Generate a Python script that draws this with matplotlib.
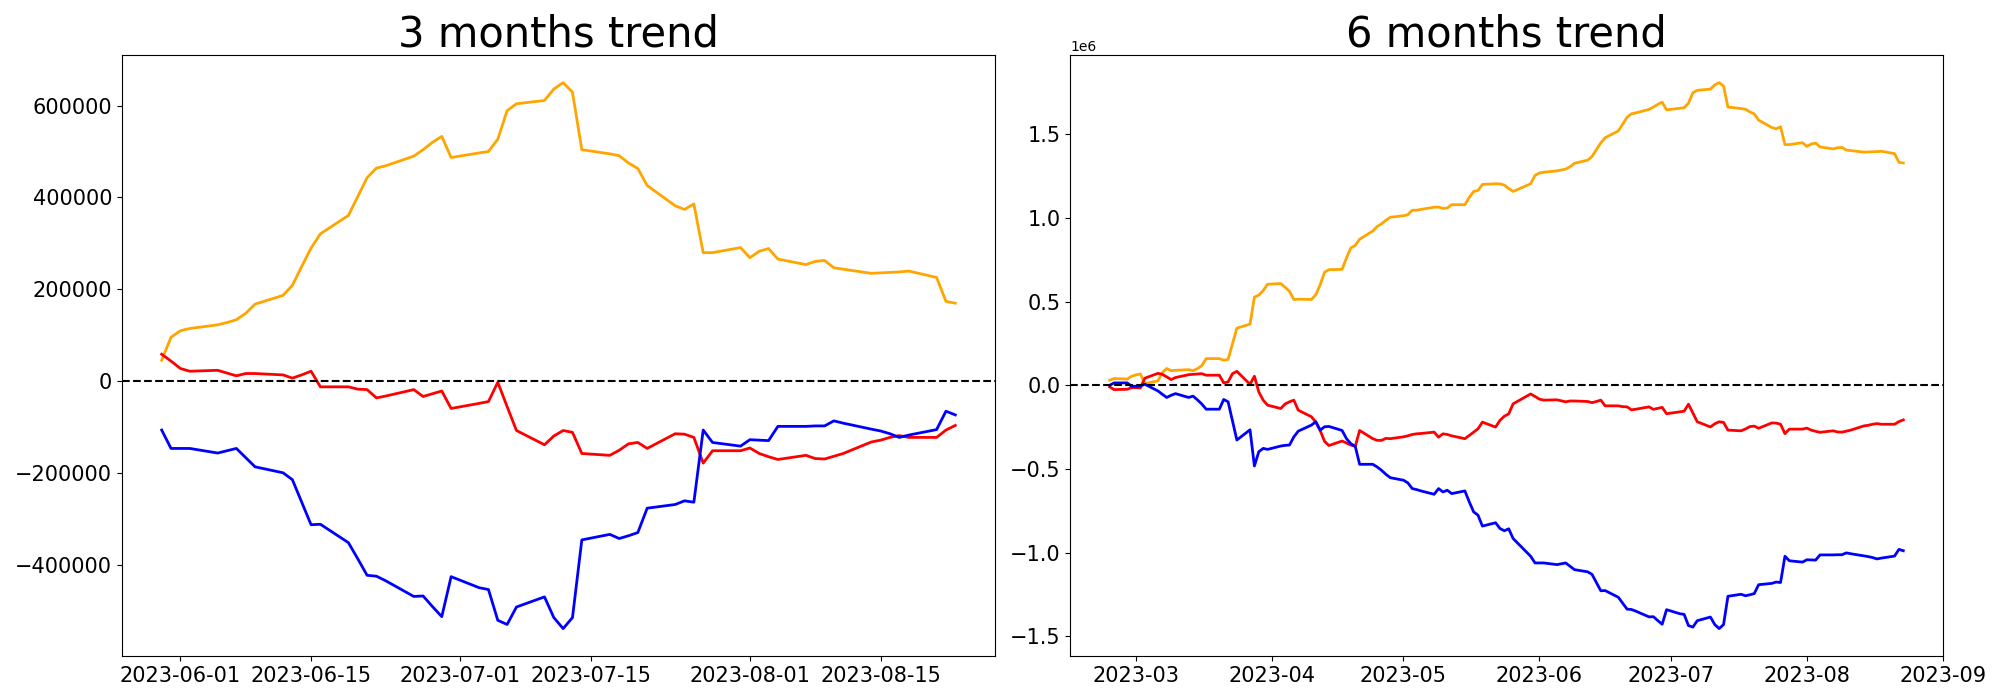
import numpy as np
import pandas as pd
import matplotlib
matplotlib.use("Agg")
import matplotlib.pyplot as plt

titles = ["3 months trend", "6 months trend"]
line_colors = ["orange", "red", "blue"]

# ---- x axis: business days (May 29 missing in the source data) ----
dates_3m = pd.bdate_range("2023-05-30", "2023-08-23")
dates_6m = pd.bdate_range("2023-02-23", "2023-08-23").drop(pd.Timestamp("2023-05-29"))

# ---- 3 months trend (values in thousands) ----
orange_3m_k = [46, 96, 110, 115, 123, 128, 134, 148, 168, 187, 209, 250, 290, 321,
               361, 402, 443, 464, 469, 490, 504, 520, 533, 487, 497, 500, 527, 589,
               604, 611, 636, 650, 629, 504, 495, 491, 475, 463, 426, 382, 374, 386,
               280, 280, 291, 269, 283, 289, 266, 254, 261, 263, 247, 244, 235, 236,
               237, 238, 240, 226, 174, 170]
red_3m_k = [59, 44, 28, 22, 24, 18, 12, 17, 17, 14, 7, 14, 22, -12, -12, -17, -18,
            -36, -32, -18, -33, -27, -21, -59, -48, -44, -2, -55, -107, -138, -119,
            -107, -111, -157, -161, -150, -136, -133, -146, -114, -115, -122, -178,
            -151, -151, -145, -157, -164, -170, -161, -168, -169, -163, -157, -132,
            -128, -122, -118, -122, -122, -106, -96]
blue_3m_k = [-106, -146, -146, -146, -156, -151, -146, -166, -186, -199, -214, -263,
             -312, -311, -351, -386, -422, -424, -434, -468, -467, -490, -512, -425,
             -449, -453, -520, -529, -491, -469, -514, -538, -514, -345, -333, -342,
             -336, -329, -276, -268, -260, -263, -106, -133, -141, -127, -128, -129,
             -98, -98, -97, -97, -86, -91, -104, -108, -114, -122, -117, -105, -65, -73]

# ---- 6 months trend (values in millions) ----
orange_6m_m = [0.030, 0.040, 0.037, 0.054,
               0.062, 0.067, 0.010, 0.026, 0.075, 0.100, 0.087, 0.089, 0.093, 0.087,
               0.099, 0.117, 0.159, 0.159, 0.149, 0.155, 0.248, 0.341, 0.365, 0.526,
               0.538, 0.565, 0.603,
               0.607, 0.585, 0.561, 0.512, 0.514, 0.512, 0.540, 0.600, 0.675, 0.690,
               0.692, 0.760, 0.820, 0.835, 0.872, 0.921, 0.948, 0.964, 0.985, 1.003,
               1.012, 1.018, 1.045, 1.045, 1.050, 1.063, 1.064, 1.056, 1.058, 1.078,
               1.078, 1.121, 1.157, 1.163, 1.199, 1.203, 1.202, 1.195, 1.175, 1.157,
               1.203, 1.253, 1.267, 1.272, 1.280, 1.285, 1.291, 1.305, 1.325, 1.344,
               1.366, 1.407, 1.447, 1.478, 1.518, 1.559, 1.600, 1.621, 1.626, 1.647,
               1.661, 1.677, 1.690, 1.644, 1.654, 1.657, 1.684, 1.746, 1.761, 1.768,
               1.793, 1.807, 1.786, 1.661, 1.652, 1.648, 1.632, 1.620, 1.583, 1.539,
               1.531, 1.543, 1.437, 1.437, 1.448, 1.426, 1.440, 1.446, 1.423, 1.411,
               1.418, 1.420, 1.404, 1.401, 1.392, 1.393, 1.394, 1.395, 1.397, 1.383,
               1.331, 1.327]
red_6m_m = [-0.010, -0.026, -0.024, -0.014,
            -0.014, -0.016, 0.042, 0.071, 0.065, 0.050, 0.034, 0.046, 0.063, 0.065,
            0.067, 0.069, 0.060, 0.060, 0.014, 0.020, 0.069, 0.083, 0.006, 0.054,
            -0.040, -0.089, -0.119,
            -0.139, -0.112, -0.099, -0.089, -0.149, -0.188, -0.220, -0.270, -0.335,
            -0.360, -0.333, -0.345, -0.357, -0.365, -0.270, -0.319, -0.329, -0.329,
            -0.317, -0.319,
            -0.308, -0.302, -0.294, -0.290, -0.288, -0.280, -0.310, -0.290, -0.294,
            -0.302, -0.319, -0.300, -0.280, -0.260, -0.220, -0.250, -0.210, -0.185,
            -0.171, -0.111,
            -0.052, -0.067, -0.083, -0.089, -0.087, -0.093, -0.099, -0.094, -0.094,
            -0.097, -0.104, -0.097, -0.089, -0.123, -0.123, -0.128, -0.129, -0.147,
            -0.143, -0.129, -0.144, -0.138, -0.132, -0.170, -0.159, -0.155, -0.113,
            -0.166, -0.218, -0.249, -0.230, -0.218, -0.222, -0.268, -0.272, -0.261,
            -0.247, -0.244, -0.257, -0.225, -0.226, -0.233, -0.289, -0.262, -0.262,
            -0.256, -0.268, -0.275, -0.281, -0.272, -0.279, -0.280, -0.274, -0.268,
            -0.243, -0.239, -0.233, -0.229, -0.233, -0.233, -0.217, -0.207]
blue_6m_m = [0.000, 0.014, 0.014, -0.006,
             -0.006, -0.004, 0.006, -0.034, -0.054, -0.073, -0.060, -0.050, -0.073,
             -0.065, -0.087, -0.112, -0.143, -0.143, -0.085, -0.099, -0.214, -0.327,
             -0.266, -0.482, -0.397, -0.377, -0.383,
             -0.363, -0.359, -0.357, -0.308, -0.274, -0.238, -0.218, -0.268, -0.248,
             -0.246, -0.270, -0.319, -0.349, -0.365, -0.472, -0.472, -0.488, -0.508,
             -0.532, -0.552,
             -0.567, -0.583, -0.617, -0.623, -0.631, -0.651, -0.617, -0.637, -0.627,
             -0.647, -0.631, -0.696, -0.756, -0.776, -0.841, -0.821, -0.855, -0.869,
             -0.857, -0.915,
             -1.021, -1.061, -1.061, -1.061, -1.071, -1.066, -1.061, -1.081, -1.101,
             -1.114, -1.129, -1.178, -1.227, -1.226, -1.266, -1.301, -1.337, -1.339,
             -1.349, -1.383, -1.382, -1.405, -1.427, -1.340, -1.364, -1.368, -1.435,
             -1.444, -1.406, -1.384, -1.429, -1.453, -1.429, -1.260, -1.248, -1.257,
             -1.251, -1.244, -1.191, -1.183, -1.175, -1.178, -1.021, -1.048, -1.056,
             -1.042, -1.043, -1.044, -1.013, -1.013, -1.012, -1.012, -1.001, -1.006,
             -1.019, -1.023, -1.029, -1.037, -1.032, -1.020, -0.980, -0.988]

panels = [
    (dates_3m, [np.array(orange_3m_k) * 1e3, np.array(red_3m_k) * 1e3,
                np.array(blue_3m_k) * 1e3]),
    (dates_6m, [np.array(orange_6m_m) * 1e6, np.array(red_6m_m) * 1e6,
                np.array(blue_6m_m) * 1e6]),
]

fig, axes = plt.subplots(1, 2, figsize=(20, 7), dpi=100)
fig.subplots_adjust(left=0.061, right=0.9715, bottom=0.063, top=0.921, wspace=0.086)

for ax, title, (dates, series) in zip(axes, titles, panels):
    for vals, col in zip(series, line_colors):
        ax.plot(dates, vals, color=col, linewidth=2)
    ax.axhline(0, color="black", linestyle="--", linewidth=1.5)
    ax.set_title(title, fontsize=30)
    ax.tick_params(axis="both", labelsize=15)

fig.savefig("out.png", dpi=100)
